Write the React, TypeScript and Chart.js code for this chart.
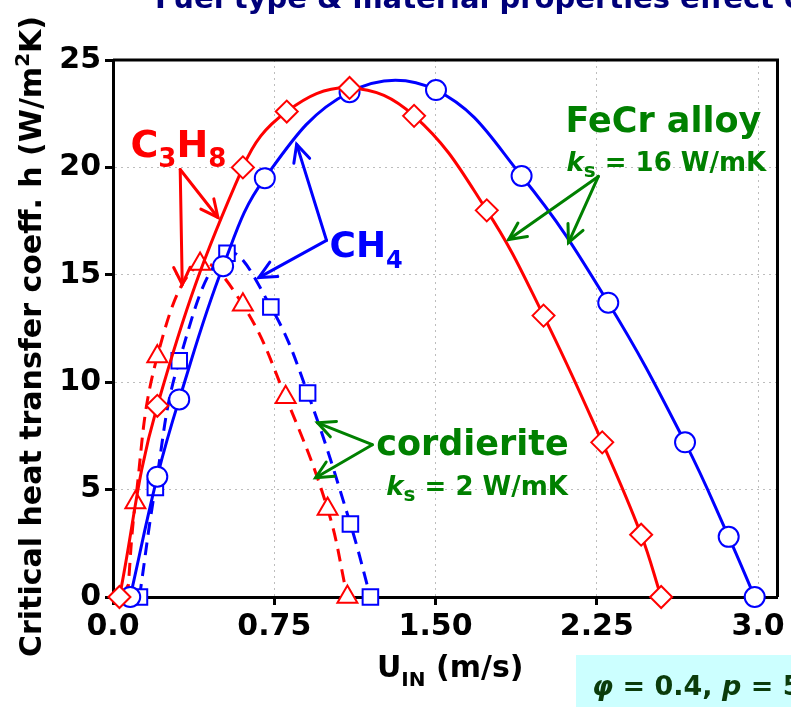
import React, { useEffect, useRef } from 'react';
import { Chart, registerables } from 'chart.js';

Chart.register(...registerables);

const FONT = '"DejaVu Sans", Verdana, sans-serif';
const RED = '#ff0000';
const BLUE = '#0000ff';
const GREEN = '#008000';

// Axis ticks
const xTickValues = [0, 0.75, 1.5, 2.25, 3.0];
const xTickLabels = ['0.0', '0.75', '1.50', '2.25', '3.0'];
const yTickValues = [0, 5, 10, 15, 20, 25];

// CH4, FeCr alloy (solid blue, circles)
const ch4FeCrU = [0.08, 0.206, 0.308, 0.512, 0.706, 1.1, 1.502, 1.9, 2.303, 2.66, 2.863, 2.984];
const ch4FeCrH = [0, 5.6, 9.2, 15.4, 19.5, 23.5, 23.6, 19.6, 13.7, 7.2, 2.8, 0];

// C3H8, FeCr alloy (solid red, diamonds)
const c3h8FeCrU = [0.03, 0.206, 0.604, 0.808, 1.1, 1.4, 1.738, 2.002, 2.275, 2.456, 2.549];
const c3h8FeCrH = [0, 8.9, 20.0, 22.6, 23.7, 22.4, 18.0, 13.1, 7.2, 2.9, 0];

// CH4, cordierite (dashed blue, squares)
const ch4CordU = [0.123, 0.197, 0.308, 0.53, 0.734, 0.905, 1.104, 1.197];
const ch4CordH = [0, 5.1, 11.0, 16.0, 13.5, 9.5, 3.4, 0];

// C3H8, cordierite (dashed red, triangles)
const c3h8CordU = [0.067, 0.104, 0.206, 0.405, 0.604, 0.803, 0.998, 1.09];
const c3h8CordH = [0, 4.4, 11.2, 15.5, 13.6, 9.3, 4.1, 0];

type Part = { t: string; size: number; italic?: boolean; dy?: number };

function richWidth(ctx: CanvasRenderingContext2D, parts: Part[]) {
  let w = 0;
  for (const p of parts) {
    ctx.font = `${p.italic ? 'italic ' : ''}bold ${p.size}px ${FONT}`;
    w += ctx.measureText(p.t).width;
  }
  return w;
}

function drawRich(ctx: CanvasRenderingContext2D, x: number, y: number, parts: Part[], color: string) {
  ctx.fillStyle = color;
  ctx.textAlign = 'left';
  ctx.textBaseline = 'alphabetic';
  let cx = x;
  for (const p of parts) {
    ctx.font = `${p.italic ? 'italic ' : ''}bold ${p.size}px ${FONT}`;
    ctx.fillText(p.t, cx, y + (p.dy || 0));
    cx += ctx.measureText(p.t).width;
  }
}

function arrow(ctx: CanvasRenderingContext2D, x1: number, y1: number, x2: number, y2: number, color: string) {
  ctx.strokeStyle = color;
  ctx.lineWidth = 3;
  ctx.lineCap = 'round';
  ctx.beginPath();
  ctx.moveTo(x1, y1);
  ctx.lineTo(x2, y2);
  ctx.stroke();
  const a = Math.atan2(y2 - y1, x2 - x1);
  const L = 19;
  const h = 0.45;
  ctx.beginPath();
  ctx.moveTo(x2 - L * Math.cos(a - h), y2 - L * Math.sin(a - h));
  ctx.lineTo(x2, y2);
  ctx.lineTo(x2 - L * Math.cos(a + h), y2 - L * Math.sin(a + h));
  ctx.stroke();
}

// Annotation anchors (data coordinates)
const arrowsDef = [
  { color: RED, from: [0.3125, 19.9], to: [[0.488, 17.67], [0.322, 14.55]] },
  { color: BLUE, from: [0.993, 16.6], to: [[0.854, 21.07], [0.678, 14.87]] },
  { color: GREEN, from: [2.257, 19.58], to: [[1.84, 16.64], [2.118, 16.5]] },
  { color: GREEN, from: [1.206, 7.09], to: [[0.951, 8.11], [0.942, 5.55]] },
];

const annotPlugin = {
  id: 'annot',
  beforeDatasetsDraw(chart: any) {
    const { ctx, chartArea: ca } = chart;
    ctx.save();
    ctx.strokeStyle = '#000';
    ctx.lineWidth = 3;
    ctx.beginPath();
    ctx.moveTo(ca.left, ca.top);
    ctx.lineTo(ca.right, ca.top);
    ctx.lineTo(ca.right, ca.bottom);
    ctx.stroke();
    ctx.restore();
  },
  afterDatasetsDraw(chart: any) {
    const { ctx, chartArea: ca } = chart;
    const xs = chart.scales.x;
    const ys = chart.scales.y;
    const px = (v: number) => xs.getPixelForValue(v);
    const py = (v: number) => ys.getPixelForValue(v);
    ctx.save();

    for (const a of arrowsDef) {
      for (const t of a.to) {
        arrow(ctx, px(a.from[0]), py(a.from[1]), px(t[0]), py(t[1]), a.color);
      }
    }

    drawRich(ctx, px(0.081), py(20.5), [
      { t: 'C', size: 38 },
      { t: '3', size: 26, dy: 10 },
      { t: 'H', size: 38 },
      { t: '8', size: 26, dy: 10 },
    ], RED);

    drawRich(ctx, px(1.007), py(15.85), [
      { t: 'CH', size: 36 },
      { t: '4', size: 24, dy: 11 },
    ], BLUE);

    drawRich(ctx, px(2.104), py(21.63), [{ t: 'FeCr alloy', size: 35 }], GREEN);
    drawRich(ctx, px(2.109), py(19.81), [
      { t: 'k', size: 26, italic: true },
      { t: 's', size: 20, dy: 6 },
      { t: ' = 16 W/mK', size: 26 },
    ], GREEN);

    drawRich(ctx, px(1.224), py(6.62), [{ t: 'cordierite', size: 35 }], GREEN);
    drawRich(ctx, px(1.271), py(4.76), [
      { t: 'k', size: 26, italic: true },
      { t: 's', size: 20, dy: 6 },
      { t: ' = 2 W/mK', size: 26 },
    ], GREEN);

    // Page title (cut off at top)
    drawRich(ctx, 155, 8, [{ t: 'Fuel type & material properties effect on', size: 29 }], '#00007a');

    // Y axis title
    const yParts: Part[] = [
      { t: 'Critical heat transfer coeff. h (W/m', size: 30 },
      { t: '2', size: 20, dy: -12 },
      { t: 'K)', size: 30 },
    ];
    const yw = richWidth(ctx, yParts);
    ctx.save();
    ctx.translate(41, (ca.top + ca.bottom) / 2 + 8);
    ctx.rotate(-Math.PI / 2);
    drawRich(ctx, -yw / 2, 0, yParts, '#000');
    ctx.restore();

    // X axis title
    const xParts: Part[] = [
      { t: 'U', size: 30 },
      { t: 'IN', size: 20, dy: 9 },
      { t: ' (m/s)', size: 30 },
    ];
    const xw = richWidth(ctx, xParts);
    drawRich(ctx, (ca.left + ca.right) / 2 + 5 - xw / 2, 677, xParts, '#000');

    // Conditions box
    ctx.fillStyle = '#ccffff';
    ctx.fillRect(576, 655, 215, 52);
    drawRich(ctx, 592, 695, [
      { t: 'φ', size: 27, italic: true },
      { t: ' = 0.4, ', size: 27 },
      { t: 'p', size: 27, italic: true },
      { t: ' = 5', size: 27 },
    ], '#0b3b0b');

    ctx.restore();
  },
};

function makeData(xs: number[], ys: number[]) {
  return xs.map((x, i) => ({ x, y: ys[i] }));
}

export default function App() {
  const ref = useRef<HTMLCanvasElement | null>(null);

  useEffect(() => {
    if (!ref.current) return;
    const common = {
      borderWidth: 3,
      pointBorderWidth: 2,
      pointBackgroundColor: '#ffffff',
      tension: 0.4,
      fill: false,
      clip: false as any,
    };
    const tickFont = { family: FONT, size: 30, weight: 'bold' as const };
    const chart = new Chart(ref.current, {
      type: 'line',
      data: {
        datasets: [
          {
            ...common,
            label: 'C3H8 FeCr alloy',
            data: makeData(c3h8FeCrU, c3h8FeCrH),
            borderColor: RED,
            pointBorderColor: RED,
            pointStyle: 'rectRot',
            pointRadius: 11,
            order: 0,
          },
          {
            ...common,
            label: 'CH4 FeCr alloy',
            data: makeData(ch4FeCrU, ch4FeCrH),
            borderColor: BLUE,
            pointBorderColor: BLUE,
            pointStyle: 'circle',
            pointRadius: 10,
            order: 1,
          },
          {
            ...common,
            label: 'C3H8 cordierite',
            data: makeData(c3h8CordU, c3h8CordH),
            borderColor: RED,
            pointBorderColor: RED,
            borderDash: [13, 8],
            pointStyle: 'triangle',
            pointRadius: 11.5,
            order: 2,
          },
          {
            ...common,
            label: 'CH4 cordierite',
            data: makeData(ch4CordU, ch4CordH),
            borderColor: BLUE,
            pointBorderColor: BLUE,
            borderDash: [13, 8],
            pointStyle: 'rect',
            pointRadius: 11,
            order: 3,
          },
        ],
      },
      options: {
        animation: false,
        responsive: false,
        maintainAspectRatio: false,
        layout: { padding: { top: 60, right: 11, left: 0, bottom: 0 } },
        plugins: {
          legend: { display: false },
          tooltip: { enabled: false },
          title: { display: false },
        },
        scales: {
          x: {
            type: 'linear',
            min: 0,
            max: 3.09,
            afterBuildTicks: (s: any) => {
              s.ticks = xTickValues.map((v) => ({ value: v }));
            },
            afterFit: (s: any) => {
              s.height = 110;
            },
            ticks: {
              autoSkip: false,
              maxRotation: 0,
              padding: 4,
              color: '#000',
              font: tickFont,
              callback: (v: any) => {
                const i = xTickValues.indexOf(Number(v));
                return i >= 0 ? xTickLabels[i] : '';
              },
            },
            grid: { color: '#bdbdbd', lineWidth: 1, tickLength: 8, tickWidth: 3, tickColor: '#000' },
            border: { color: '#000', width: 3, dash: [2, 4] },
          },
          y: {
            type: 'linear',
            min: 0,
            max: 25,
            afterBuildTicks: (s: any) => {
              s.ticks = yTickValues.map((v) => ({ value: v }));
            },
            afterFit: (s: any) => {
              s.width = 113;
            },
            ticks: { padding: 4, color: '#000', font: tickFont },
            grid: { color: '#bdbdbd', lineWidth: 1, tickLength: 8, tickWidth: 3, tickColor: '#000' },
            border: { color: '#000', width: 3, dash: [2, 4] },
          },
        },
      } as any,
      plugins: [annotPlugin],
    });
    return () => chart.destroy();
  }, []);

  return (
    <div style={{ position: 'fixed', left: 0, top: 0, width: 791, height: 707, background: '#fff' }}>
      <canvas ref={ref} width={791} height={707} style={{ display: 'block', width: 791, height: 707 }} />
    </div>
  );
}
